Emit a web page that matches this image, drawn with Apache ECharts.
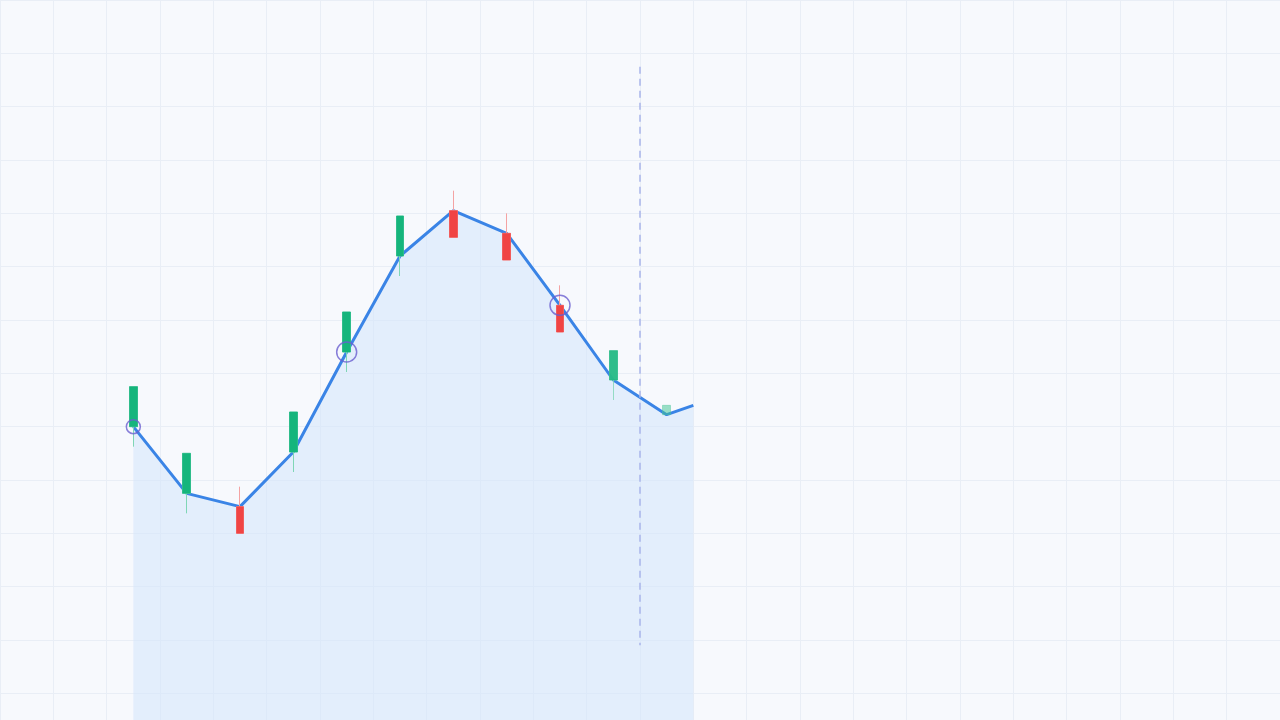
<!DOCTYPE html>
<html>
<head>
<meta charset="utf-8">
<style>
  html, body { margin: 0; padding: 0; background: #f7f9fd; }
  #chart { width: 1280px; height: 720px; }
</style>
<script src="https://cdn.jsdelivr.net/npm/echarts@6/dist/echarts.min.js"></script>
</head>
<body>
<div id="chart"></div>
<script>
// 24 category slots across the view; candles occupy slots 2..12
const categories = Array.from({length: 24}, (_, i) => 'T' + i);
const candleIndex = [2, 3, 4, 5, 6, 7, 8, 9, 10, 11, 12];
const candleOpen  = [60,    47.5,  45,    55.25, 74,    92,    100.5, 96.25, 82.75, 68.75, 62.25];
const candleClose = [67.5,  55,    40,    62.75, 81.5,  99.5,  95.5,  91.25, 77.75, 74.25, 64];
const candleLow   = [56.25, 43.75, 40,    51.5,  70.25, 88.25, 95.5,  91.25, 77.75, 65,    62.25];
const candleHigh  = [67.5,  55,    48.75, 62.75, 81.5,  99.5,  104.25,100,   86.5,  74.25, 64];
const candleOpacity = [1, 1, 1, 1, 1, 1, 1, 1, 1, 0.8, 0.3];
// trend line (x in slot units, y value)
const lineX = [2, 3, 4, 5, 6, 7, 8, 9, 10, 11, 12, 12.5];
const lineY = [60, 47.5, 45, 55.25, 74, 92, 100.5, 96.25, 82.75, 68.75, 62.25, 64];
// highlighted points
const markX = [2, 6, 10];
const markY = [60, 74, 82.75];
const markSize = [14, 20, 20];
// vertical dashed marker
const nowX = 11.5;
const nowRange = [19, 127.5];
// background grid rows (inverse axis, one per row)
const gridRows = 13.5;

const chart = echarts.init(document.getElementById('chart'), null, {renderer: 'canvas'});

function slotArray(fn) {
  const arr = Array(categories.length).fill('-');
  candleIndex.forEach((ci, i) => { arr[ci] = fn(i); });
  return arr;
}

const wickData = slotArray(i => ({
  value: [candleOpen[i], candleClose[i], candleLow[i], candleHigh[i]],
  itemStyle: { opacity: candleOpacity[i] }
}));
const bodyData = slotArray(i => ({
  value: [candleOpen[i], candleClose[i],
          Math.min(candleOpen[i], candleClose[i]), Math.max(candleOpen[i], candleClose[i])],
  itemStyle: { opacity: candleOpacity[i] }
}));

const option = {
  backgroundColor: '#f7f9fd',
  animation: false,
  grid: { left: 0, right: 0, top: 0, bottom: 0, containLabel: false },
  xAxis: [
    {
      type: 'category',
      data: categories,
      boundaryGap: true,
      axisLine: { show: false },
      axisTick: { show: false },
      axisLabel: { show: false },
      splitLine: { show: true, interval: 0, lineStyle: { color: '#e9eef6', width: 1 } }
    },
    {
      type: 'value',
      min: -0.5,
      max: 23.5,
      show: false,
      splitLine: { show: false }
    }
  ],
  yAxis: [
    {
      type: 'value',
      min: 5,
      max: 140,
      axisLine: { show: false },
      axisTick: { show: false },
      axisLabel: { show: false },
      splitLine: { show: false }
    },
    {
      type: 'value',
      inverse: true,
      min: 0,
      max: gridRows,
      interval: 1,
      axisLine: { show: false },
      axisTick: { show: false },
      axisLabel: { show: false },
      splitLine: { show: true, lineStyle: { color: '#e9eef6', width: 1 } }
    }
  ],
  series: [
    {
      type: 'line',
      xAxisIndex: 1,
      yAxisIndex: 0,
      data: lineX.map((x, i) => [x, lineY[i]]),
      symbol: 'none',
      lineStyle: { color: '#3a84e6', width: 3 },
      areaStyle: { color: 'rgba(214, 230, 252, 0.6)', opacity: 1 },
      z: 2,
      markLine: {
        silent: true,
        symbol: 'none',
        label: { show: false },
        lineStyle: { color: '#a9b5ea', type: [7, 5], width: 1.5 },
        data: [[{ coord: [nowX, nowRange[1]] }, { coord: [nowX, nowRange[0]] }]]
      }
    },
    {
      type: 'candlestick',
      xAxisIndex: 0,
      yAxisIndex: 0,
      barWidth: 8,
      data: wickData,
      itemStyle: {
        color: '#7fd6b6',
        color0: '#f4a3a3',
        borderColor: '#7fd6b6',
        borderColor0: '#f4a3a3',
        borderWidth: 1
      },
      z: 3
    },
    {
      type: 'candlestick',
      xAxisIndex: 0,
      yAxisIndex: 0,
      barWidth: 8,
      data: bodyData,
      itemStyle: {
        color: '#15b57c',
        color0: '#f04444',
        borderColor: '#15b57c',
        borderColor0: '#f04444',
        borderWidth: 0.5
      },
      z: 4
    },
    {
      type: 'scatter',
      xAxisIndex: 1,
      yAxisIndex: 0,
      data: markX.map((x, i) => ({ value: [x, markY[i]], symbolSize: markSize[i] })),
      symbol: 'circle',
      itemStyle: { color: 'rgba(0,0,0,0)', borderColor: '#6a5fd0', borderWidth: 1.5 },
      z: 5
    }
  ]
};
chart.setOption(option);
</script>
</body>
</html>
